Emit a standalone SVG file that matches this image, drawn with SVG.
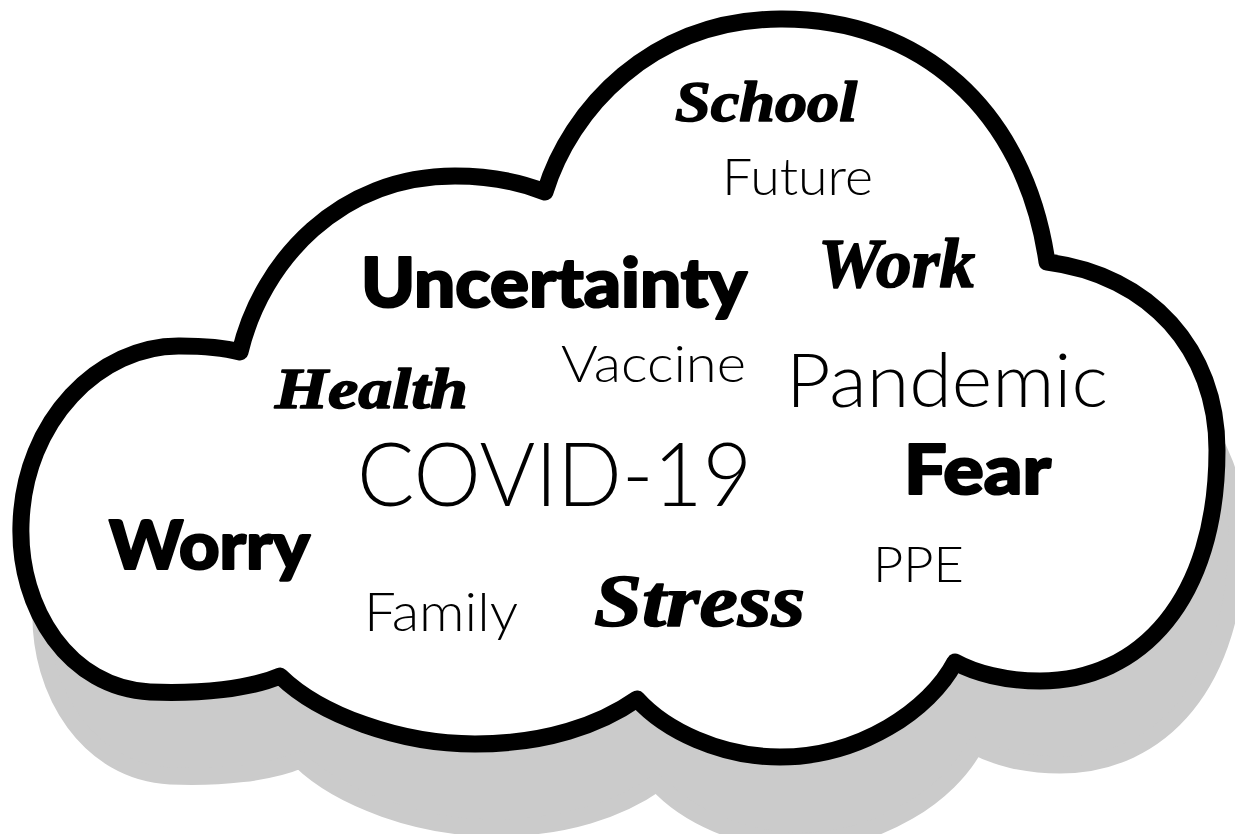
<svg xmlns="http://www.w3.org/2000/svg" width="1235" height="834" viewBox="0 0 1235 834">
<defs>
<path id="cloudPath" d="M280 676 C250 689,200 694,150 692 C70 688,18 610,21 524 C24 420,100 345,180 346 C205 346,225 348,240 352 C262 260,340 176,455 176 C490 176,520 182,545 192 C570 110,650 20,780 19 C920 18,1025 110,1047 262 C1150 275,1217 350,1217 450 C1217 600,1140 681,1040 681 C1005 681,975 673,955 662 C930 710,860 757,780 757 C720 757,665 730,637 699 C600 725,545 744,475 744 C400 744,320 715,280 676 Z"/>
</defs>
<style>
.thin{font-family:Lato,Inter,"Open Sans",sans-serif;font-weight:300;fill:#000}
.heavy{font-family:Lato,Inter,"Open Sans",sans-serif;font-weight:900;fill:#000;stroke:#000;stroke-width:2.2;stroke-linejoin:round}
.script{font-family:"Liberation Serif","DejaVu Serif",serif;font-weight:bold;font-style:italic;fill:#000;stroke:#000;stroke-width:1.6;stroke-linejoin:round}
</style>
<rect width="1235" height="834" fill="#fff"/>
<g id="cloud">
<use href="#cloudPath" transform="translate(20,84)" fill="#cbcbcb" stroke="#cbcbcb" stroke-width="17" stroke-linejoin="round"/>
<use href="#cloudPath" fill="#fff" stroke="#000" stroke-width="17" stroke-linejoin="round"/>
</g>
<g id="word-school"><text class="script" x="675" y="121" font-size="56" textLength="182" lengthAdjust="spacingAndGlyphs">School</text></g>
<g id="word-future"><text class="thin" x="722" y="195" font-size="52" textLength="151" lengthAdjust="spacingAndGlyphs">Future</text></g>
<g id="word-work"><text class="script" x="818" y="287" font-size="70" textLength="157" lengthAdjust="spacingAndGlyphs">Work</text></g>
<g id="word-uncertainty"><text class="heavy" x="361" y="307" font-size="69" textLength="386" lengthAdjust="spacingAndGlyphs">Uncertainty</text></g>
<g id="word-vaccine"><text class="thin" x="561" y="382" font-size="51" textLength="185" lengthAdjust="spacingAndGlyphs">Vaccine</text></g>
<g id="word-pandemic"><text class="thin" x="786" y="407" font-size="75" textLength="322" lengthAdjust="spacingAndGlyphs">Pandemic</text></g>
<g id="word-health"><text class="script" x="275" y="408" font-size="58" textLength="193" lengthAdjust="spacingAndGlyphs">Health</text></g>
<g id="word-covid"><text class="thin" x="357" y="506" font-size="89" textLength="395" lengthAdjust="spacingAndGlyphs">COVID-19</text></g>
<g id="word-fear"><text class="heavy" x="904" y="494" font-size="69" textLength="147" lengthAdjust="spacingAndGlyphs">Fear</text></g>
<g id="word-worry"><text class="heavy" x="109" y="569" font-size="67" textLength="201" lengthAdjust="spacingAndGlyphs">Worry</text></g>
<g id="word-ppe"><text class="thin" x="873" y="582" font-size="50" textLength="91" lengthAdjust="spacingAndGlyphs">PPE</text></g>
<g id="word-family"><text class="thin" x="364" y="631" font-size="54" textLength="154" lengthAdjust="spacingAndGlyphs">Family</text></g>
<g id="word-stress"><text class="script" x="594" y="626" font-size="74" textLength="211" lengthAdjust="spacingAndGlyphs">Stress</text></g>
<g id="connectors"/>
</svg>
